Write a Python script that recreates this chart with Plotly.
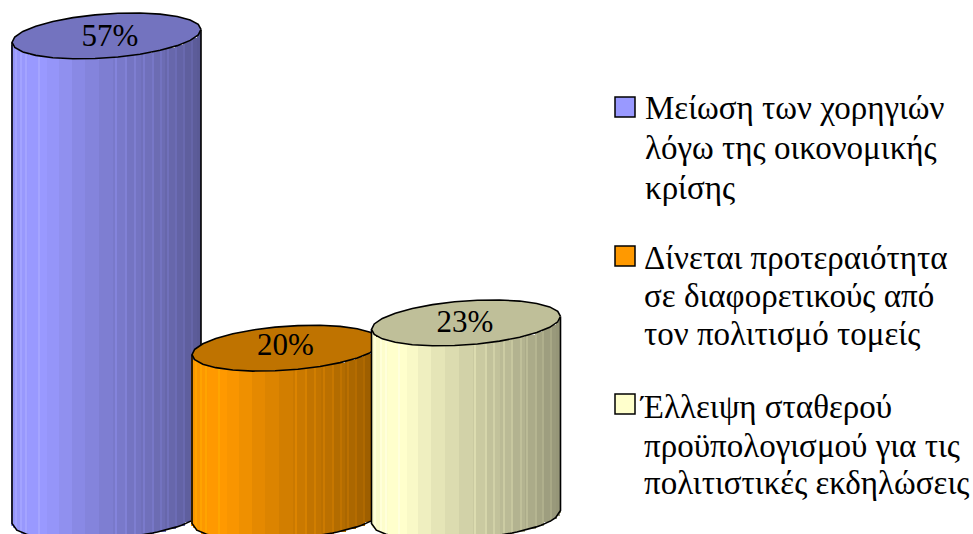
import numpy as np
import plotly.graph_objects as go

# ---- data ----
categories = ["Μείωση των χορηγιών λόγω της οικονομικής κρίσης",
              "Δίνεται προτεραιότητα σε διαφορετικούς από τον πολιτισμό τομείς",
              "Έλλειψη σταθερού προϋπολογισμού για τις πολιτιστικές εκδηλώσεις"]
values = [57, 20, 23]
legend_lines = [["Μείωση των χορηγιών", "λόγω της οικονομικής", "κρίσης"],
                ["Δίνεται προτεραιότητα", "σε διαφορετικούς από", "τον πολιτισμό τομείς"],
                ["Έλλειψη σταθερού", "προϋπολογισμού για τις", "πολιτιστικές εκδηλώσεις"]]

# ---- styling ----
W, H = 973, 534
base_colors = [(153, 153, 255), (255, 153, 0), (255, 255, 204)]
FONT = "Liberation Serif"
centers = [106.5, 286.5, 466.0]   # cylinder centre on the x scale
A = 94.5                           # half-width
B = 22.0                           # ellipse half height (px)
S = 6.5                            # tilt (px)
K = 8.44                           # px per percentage point
Y0 = 517                           # px row of value 0
label_dx = [3.5, -1, -1]
label_dy = [-2, 1, -1]

shade_x = [0.0, 0.09, 0.18, 0.35, 0.55, 0.75, 0.90, 1.0]
shade_f = [0.97, 1.0, 1.0, 0.90, 0.80, 0.72, 0.64, 0.58]
light_lines = [0.02, 0.05, 0.075, 0.145, 0.55, 0.605, 0.65, 0.70, 0.745, 0.79, 0.825, 0.87, 0.91, 0.95]
TOP_FACTOR = 0.75
edges = 0.5 * (1 - np.cos(np.linspace(0, np.pi, 22)))


def rgb(c, f):
    return "rgb({},{},{})".format(*[min(255, int(round(v * f))) for v in c])


def lower_edge(frac):
    """data-unit offset of the ellipse's front edge at a fraction across the cylinder."""
    c = 2 * frac - 1
    return (S * c - B * np.sqrt(np.clip(1 - c * c, 0, 1))) / K


fig = go.Figure()
for i, (v, cx, col) in enumerate(zip(values, centers, base_colors)):
    suf = "" if i == 0 else str(i + 1)
    xa, ya = "x" + suf, "y" + suf
    left = edges[:-1]
    right = edges[1:]
    mid = (left + right) / 2
    fr = np.concatenate([mid, light_lines])
    wd = np.concatenate([(right - left) * 2 * A + 0.6, np.full(len(light_lines), 1.0)])
    fac = np.interp(fr, shade_x, shade_f)
    fac[len(mid):] = fac[len(mid):] * 1.08
    base = lower_edge(fr)
    top = v + lower_edge(fr)
    fig.add_trace(go.Bar(x=cx - A + fr * 2 * A, y=top - base, base=base, width=wd,
                         marker=dict(color=[rgb(col, f) for f in fac], line=dict(width=0)),
                         name=categories[i], showlegend=False, hoverinfo="skip",
                         xaxis=xa, yaxis=ya))
    # outline of the body: left side, bottom curve, right side
    t = np.linspace(0, 1, 40)
    ox = np.concatenate([[cx - A], cx - A + t * 2 * A, [cx + A]])
    oy = np.concatenate([[v + lower_edge(0.0)], lower_edge(t), [v + lower_edge(1.0)]])
    fig.add_trace(go.Scatter(x=ox, y=oy, mode="lines", line=dict(color="black", width=1.6),
                             showlegend=False, hoverinfo="skip", xaxis=xa, yaxis=ya))
    # top ellipse
    th = np.linspace(0, 2 * np.pi, 27)
    ex = cx + A * np.cos(th)
    ey = v + (S * np.cos(th) + B * np.sin(th)) / K
    fig.add_trace(go.Scatter(x=ex, y=ey, mode="lines", fill="toself",
                             fillcolor=rgb(col, TOP_FACTOR),
                             line=dict(color="black", width=1.6),
                             showlegend=False, hoverinfo="skip", xaxis=xa, yaxis=ya))
    fig.add_trace(go.Scatter(x=[cx + label_dx[i]], y=[v + label_dy[i] / K], mode="text",
                             text=[f"{v}%"], textposition="middle center",
                             textfont=dict(family=FONT, size=31, color="black"),
                             showlegend=False, hoverinfo="skip", xaxis=xa, yaxis=ya))

axis = dict(visible=False, fixedrange=True)
xr = [0, W]
yr = [-(H - Y0) / K, Y0 / K]
layout = dict(
    width=W, height=H, margin=dict(l=0, r=0, t=0, b=0, pad=0), autosize=False,
    paper_bgcolor="white", plot_bgcolor="white", barmode="overlay", bargap=0,
    xaxis=dict(range=xr, **axis), yaxis=dict(range=yr, **axis),
    xaxis2=dict(range=xr, overlaying="x", **axis), yaxis2=dict(range=yr, overlaying="y", **axis),
    xaxis3=dict(range=xr, overlaying="x", **axis), yaxis3=dict(range=yr, overlaying="y", **axis),
    showlegend=False,
)
fig.update_layout(**layout)

# ---- legend drawn as swatches and text lines ----
swatch_top = [97, 246, 394]
line_centres = [[108, 148, 188], [258, 296, 334], [407, 446, 483]]
text_left = [[645, 645, 645], [644, 644, 644], [639, 644, 644]]
for col, sy, lines, cys, lefts in zip(base_colors, swatch_top, legend_lines, line_centres, text_left):
    fig.add_shape(type="rect", xref="paper", yref="paper",
                  x0=615 / W, x1=635 / W, y0=1 - sy / H, y1=1 - (sy + 20) / H,
                  fillcolor=rgb(col, 1), line=dict(color="black", width=1.5))
    for s, cy, lx in zip(lines, cys, lefts):
        fig.add_annotation(text=s, xref="paper", yref="paper", x=lx / W, y=1 - cy / H,
                           xanchor="left", yanchor="middle", showarrow=False,
                           font=dict(family=FONT, size=33, color="black"),
                           borderpad=0, borderwidth=0)

fig.write_html("out.html", config=dict(displayModeBar=False),
               post_script="document.body.style.margin='0';document.documentElement.style.overflow='hidden';")
